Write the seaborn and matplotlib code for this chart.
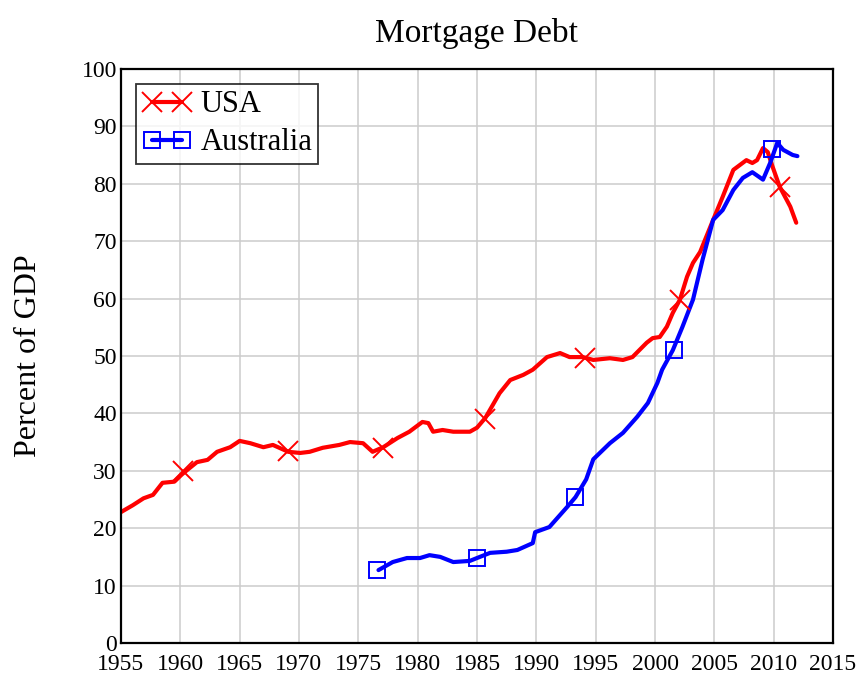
import matplotlib
matplotlib.use('Agg')
import matplotlib.pyplot as plt
from matplotlib.lines import Line2D
import seaborn as sns
import pandas as pd

# mortgage debt, percent of GDP
usa_years = [1955.0, 1956.0, 1956.9, 1957.7, 1958.5, 1959.5, 1960.1, 1960.5, 1961.4,
             1962.3, 1963.1, 1964.2, 1965.0, 1965.9, 1967.0, 1967.8, 1969.1, 1970.1,
             1970.9, 1972.0, 1973.4, 1974.3, 1975.4, 1976.2, 1977.1, 1978.3, 1979.3,
             1980.4, 1980.9, 1981.3, 1982.1, 1983.0, 1984.4, 1985.0, 1985.7, 1986.9,
             1987.8, 1988.9, 1989.7, 1990.9, 1992.0, 1992.8, 1993.9, 1994.8, 1996.2,
             1997.3, 1998.1, 1999.3, 1999.8, 2000.4, 2001.0, 2001.5, 2002.1, 2002.7,
             2003.2, 2003.8, 2004.9, 2005.7, 2006.6, 2007.7, 2008.2, 2008.6, 2009.1,
             2009.5, 2009.9, 2010.5, 2011.4, 2011.9]
usa_values = [22.8, 24.0, 25.2, 25.8, 27.9, 28.1, 29.3, 30.0, 31.5,
              31.9, 33.3, 34.1, 35.2, 34.8, 34.1, 34.5, 33.3, 33.1,
              33.3, 34.0, 34.5, 35.0, 34.8, 33.3, 34.1, 35.7, 36.8,
              38.5, 38.3, 36.8, 37.1, 36.8, 36.8, 37.5, 39.2, 43.5,
              45.8, 46.7, 47.6, 49.8, 50.5, 49.8, 49.8, 49.3, 49.6,
              49.3, 49.8, 52.3, 53.1, 53.3, 55.1, 57.5, 59.8, 63.8,
              66.2, 68.1, 73.7, 77.7, 82.4, 84.1, 83.6, 84.1, 86.2,
              85.5, 83.0, 79.5, 76.0, 73.2]

aus_years = [1976.7, 1977.9, 1979.1, 1980.2, 1981.0, 1981.9, 1983.0, 1984.4, 1985.0,
             1986.1, 1987.5, 1988.4, 1989.7, 1989.9, 1991.1, 1992.6, 1993.3, 1994.2,
             1994.8, 1996.2, 1997.3, 1998.5, 1999.4, 2000.2, 2000.6, 2001.5, 2002.3,
             2003.2, 2004.0, 2004.9, 2005.7, 2006.6, 2007.4, 2008.2, 2009.1, 2009.7,
             2010.3, 2010.8, 2011.6, 2012.0]
aus_values = [12.7, 14.1, 14.8, 14.8, 15.3, 15.0, 14.1, 14.3, 14.8,
              15.7, 15.9, 16.2, 17.4, 19.3, 20.2, 23.7, 25.4, 28.5,
              32.0, 34.8, 36.6, 39.4, 41.8, 45.3, 47.6, 51.0, 55.0,
              59.8, 66.7, 73.7, 75.4, 78.9, 81.0, 82.0, 80.7, 83.6,
              87.1, 85.9, 85.0, 84.8]

# sparse marker positions
usa_mark_years = [1960.2, 1969.1, 1977.1, 1985.7, 1994.1, 2002.1, 2010.5]
usa_mark_values = [30.0, 33.5, 34.0, 39.0, 49.7, 59.8, 79.5]
aus_mark_years = [1976.6, 1985.0, 1993.3, 2001.6, 2009.9]
aus_mark_values = [12.7, 14.8, 25.4, 51.0, 86.0]

x_ticks = list(range(1955, 2016, 5))
y_ticks = list(range(0, 101, 10))

sns.set_style('white')
plt.rcParams['font.family'] = ['Liberation Serif', 'DejaVu Serif']
plt.rcParams.update({
    'text.color': 'black',
    'axes.labelcolor': 'black',
    'xtick.color': 'black',
    'ytick.color': 'black',
})

usa = pd.DataFrame({'year': usa_years, 'pct': usa_values})
aus = pd.DataFrame({'year': aus_years, 'pct': aus_values})
usa_m = pd.DataFrame({'year': usa_mark_years, 'pct': usa_mark_values})
aus_m = pd.DataFrame({'year': aus_mark_years, 'pct': aus_mark_values})

fig = plt.figure(figsize=(8.61, 6.75), dpi=100)
ax = fig.add_axes([0.1405, 0.0474, 0.827, 0.8506])

sns.lineplot(data=usa, x='year', y='pct', ax=ax, color='red', lw=3, sort=False)
sns.lineplot(data=aus, x='year', y='pct', ax=ax, color='blue', lw=3, sort=False)
ax.plot(usa_m['year'], usa_m['pct'], ls='none', marker='x', ms=14, mew=1.4, color='red')
ax.plot(aus_m['year'], aus_m['pct'], ls='none', marker='s', ms=12, mew=1.4,
        mfc='none', mec='blue')

ax.set_xlim(1955, 2015)
ax.set_ylim(0, 100)
ax.set_xticks(x_ticks)
ax.set_yticks(y_ticks)
ax.grid(True, color='#cccccc', lw=1.1)
ax.tick_params(axis='both', length=0, labelsize=17)
ax.tick_params(axis='x', pad=8)
ax.tick_params(axis='y', pad=3)
for s in ax.spines.values():
    s.set_color('black')
    s.set_linewidth(1.6)

ax.set_xlabel('')
ax.set_ylabel('Percent of GDP', fontsize=23, labelpad=28)
ax.set_title('Mortgage Debt', fontsize=24, pad=19)

handles = [
    Line2D([0], [0], color='red', lw=3, marker='x', ms=14, mew=1.4),
    Line2D([0], [0], color='blue', lw=3, marker='s', ms=12, mew=1.4,
           mfc='none', mec='blue'),
]
leg = ax.legend(handles, ['USA', 'Australia'], loc='upper left', numpoints=2,
                fontsize=22, frameon=True, fancybox=False, handlelength=1.6,
                handletextpad=0.3, borderpad=0.2, labelspacing=0.3,
                borderaxespad=0.5)
leg.get_frame().set_edgecolor('black')
leg.get_frame().set_linewidth(1.3)

fig.savefig('out.png', dpi=100)
